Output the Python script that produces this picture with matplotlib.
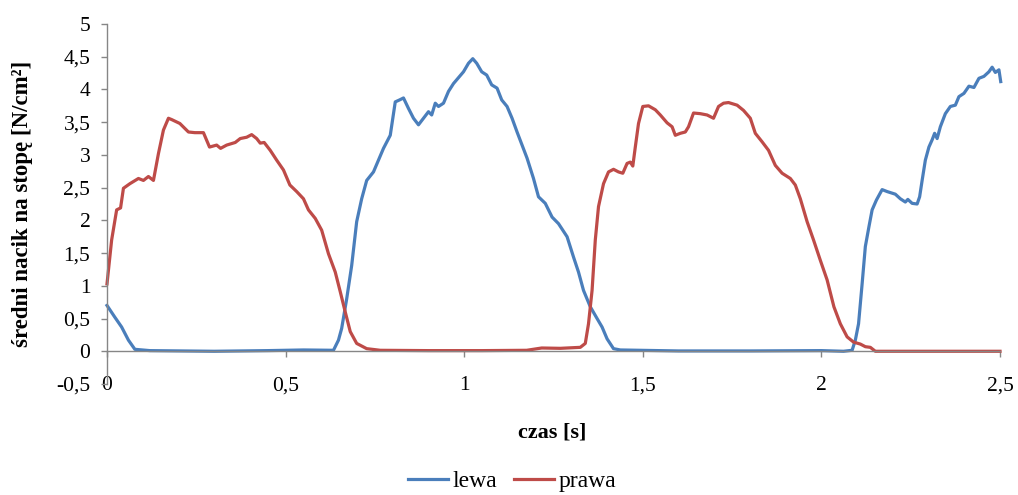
import matplotlib
matplotlib.use("Agg")
import matplotlib.pyplot as plt
from matplotlib.ticker import FixedLocator, FixedFormatter

# ---- data ----
lewa_t = [0, 0.022, 0.041, 0.060, 0.078, 0.12, 0.3, 0.45, 0.55, 0.634, 0.648, 0.657, 0.671, 0.685,
          0.699, 0.713, 0.727, 0.746, 0.760, 0.774, 0.793, 0.807, 0.819, 0.830, 0.844, 0.858, 0.872,
          0.886, 0.900, 0.909, 0.919, 0.928, 0.942, 0.956, 0.970, 0.984, 0.998, 1.012, 1.024, 1.035,
          1.049, 1.063, 1.077, 1.092, 1.105, 1.120, 1.134, 1.148, 1.162, 1.176, 1.194, 1.208, 1.227,
          1.246, 1.264, 1.288, 1.306, 1.320, 1.334, 1.353, 1.372, 1.386, 1.400, 1.418, 1.437, 1.6,
          1.8, 2.0, 2.062, 2.086, 2.095, 2.104, 2.114, 2.123, 2.133, 2.142, 2.154, 2.170, 2.184,
          2.207, 2.221, 2.235, 2.242, 2.254, 2.268, 2.275, 2.282, 2.291, 2.301, 2.310, 2.317, 2.324,
          2.333, 2.347, 2.361, 2.375, 2.385, 2.399, 2.413, 2.427, 2.441, 2.455, 2.469, 2.478, 2.487,
          2.497, 2.502]
lewa_v = [0.70, 0.52, 0.37, 0.17, 0.03, 0.01, 0.0, 0.01, 0.02, 0.015, 0.17, 0.35, 0.80, 1.31,
          1.98, 2.33, 2.61, 2.74, 2.92, 3.10, 3.30, 3.81, 3.84, 3.87, 3.71, 3.56, 3.46,
          3.56, 3.66, 3.61, 3.79, 3.74, 3.79, 3.97, 4.09, 4.18, 4.27, 4.40, 4.47, 4.40,
          4.27, 4.22, 4.07, 4.02, 3.84, 3.74, 3.56, 3.35, 3.15, 2.95, 2.64, 2.36, 2.26,
          2.05, 1.95, 1.75, 1.44, 1.21, 0.93, 0.68, 0.50, 0.37, 0.19, 0.04, 0.02, 0.005,
          0.005, 0.01, 0.0, 0.015, 0.17, 0.42, 1.03, 1.60, 1.90, 2.16, 2.31, 2.47, 2.44,
          2.40, 2.33, 2.28, 2.32, 2.26, 2.25, 2.36, 2.61, 2.92, 3.12, 3.23, 3.33, 3.25,
          3.43, 3.63, 3.74, 3.76, 3.89, 3.94, 4.05, 4.03, 4.17, 4.20, 4.27, 4.34, 4.26,
          4.30, 4.12]

prawa_t = [0, 0.013, 0.027, 0.038, 0.046, 0.064, 0.088, 0.102, 0.116, 0.13, 0.144, 0.158, 0.172,
           0.181, 0.204, 0.228, 0.246, 0.270, 0.287, 0.307, 0.318, 0.335, 0.359, 0.373, 0.391,
           0.405, 0.419, 0.429, 0.440, 0.457, 0.475, 0.494, 0.512, 0.531, 0.550, 0.564, 0.583,
           0.601, 0.620, 0.639, 0.653, 0.667, 0.681, 0.699, 0.727, 0.765, 0.9, 1.05, 1.175, 1.217,
           1.269, 1.325, 1.339, 1.348, 1.358, 1.367, 1.376, 1.390, 1.404, 1.418, 1.432, 1.444,
           1.456, 1.465, 1.472, 1.479, 1.488, 1.500, 1.516, 1.535, 1.549, 1.568, 1.582, 1.591,
           1.605, 1.619, 1.628, 1.642, 1.661, 1.680, 1.698, 1.712, 1.726, 1.740, 1.764, 1.782,
           1.801, 1.815, 1.834, 1.852, 1.871, 1.890, 1.913, 1.927, 1.941, 1.960, 1.978, 1.997,
           2.016, 2.035, 2.053, 2.072, 2.090, 2.109, 2.123, 2.137, 2.151, 2.3, 2.5]
prawa_v = [1.03, 1.70, 2.16, 2.19, 2.49, 2.56, 2.64, 2.61, 2.67, 2.61, 3.02, 3.38, 3.56,
           3.54, 3.48, 3.35, 3.34, 3.34, 3.12, 3.15, 3.10, 3.15, 3.19, 3.25, 3.27,
           3.31, 3.25, 3.18, 3.19, 3.07, 2.92, 2.77, 2.54, 2.44, 2.33, 2.16, 2.03,
           1.85, 1.49, 1.21, 0.91, 0.60, 0.30, 0.12, 0.04, 0.015, 0.01, 0.01, 0.015, 0.05,
           0.045, 0.06, 0.12, 0.42, 0.93, 1.70, 2.21, 2.56, 2.74, 2.78, 2.74, 2.72,
           2.87, 2.89, 2.83, 3.12, 3.48, 3.74, 3.75, 3.69, 3.61, 3.49, 3.43, 3.30,
           3.33, 3.35, 3.43, 3.64, 3.63, 3.61, 3.56, 3.74, 3.79, 3.80, 3.76, 3.68,
           3.56, 3.33, 3.20, 3.07, 2.84, 2.72, 2.64, 2.54, 2.33, 1.98, 1.70, 1.39,
           1.09, 0.68, 0.42, 0.22, 0.14, 0.11, 0.07, 0.06, 0.0, 0.0, 0.0]

x_ticks = [0, 0.5, 1, 1.5, 2, 2.5]
x_ticklabels = ["0", "0,5", "1", "1,5", "2", "2,5"]
y_ticks = [-0.5, 0, 0.5, 1, 1.5, 2, 2.5, 3, 3.5, 4, 4.5, 5]
y_ticklabels = ["-0,5", "0", "0,5", "1", "1,5", "2", "2,5", "3", "3,5", "4", "4,5", "5"]

series_names = ["lewa", "prawa"]
colors = ["#4A7EBB", "#BE4B48"]

# ---- figure ----
plt.rcParams["font.family"] = ["Liberation Serif", "DejaVu Serif"]
fig = plt.figure(figsize=(10.18, 4.95), dpi=100)
ax = fig.add_axes([107 / 1018, 1 - 384 / 495, (1000 - 107) / 1018, (384 - 24) / 495])

ax.plot(lewa_t, lewa_v, color=colors[0], lw=2.3, label=series_names[0], clip_on=False,
        solid_joinstyle="round")
ax.plot(prawa_t, prawa_v, color=colors[1], lw=2.3, label=series_names[1], clip_on=False,
        solid_joinstyle="round")

ax.set_xlim(0, 2.5)
ax.set_ylim(-0.5, 5)

for s in ["top", "right"]:
    ax.spines[s].set_visible(False)
ax.spines["bottom"].set_position(("data", 0))
ax.spines["bottom"].set_color("#868686")
ax.spines["left"].set_color("#868686")
ax.spines["bottom"].set_linewidth(1.0)
ax.spines["left"].set_linewidth(1.0)

ax.xaxis.set_major_locator(FixedLocator(x_ticks))
ax.xaxis.set_major_formatter(FixedFormatter(x_ticklabels))
ax.yaxis.set_major_locator(FixedLocator(y_ticks))
ax.yaxis.set_major_formatter(FixedFormatter(y_ticklabels))

ax.tick_params(axis="x", direction="out", length=4, width=1, color="#868686",
               labelsize=15.5, pad=14)
ax.tick_params(axis="y", direction="out", length=4, width=1, color="#868686",
               labelsize=15.5, pad=8)

ax.set_ylabel("średni nacik na stopę [N/cm²]", fontsize=16.5, fontweight="bold")
ax.yaxis.set_label_coords(-0.083, 0.50)
ax.set_xlabel("czas [s]", fontsize=16, fontweight="bold")
ax.xaxis.set_label_coords(0.498, -0.108)

fig.legend(loc="center", bbox_to_anchor=(512 / 1018, 0.028), ncol=2, frameon=False,
           fontsize=17, handlelength=1.7, handletextpad=0.2, columnspacing=0.7)

fig.savefig("out.png", dpi=100)
